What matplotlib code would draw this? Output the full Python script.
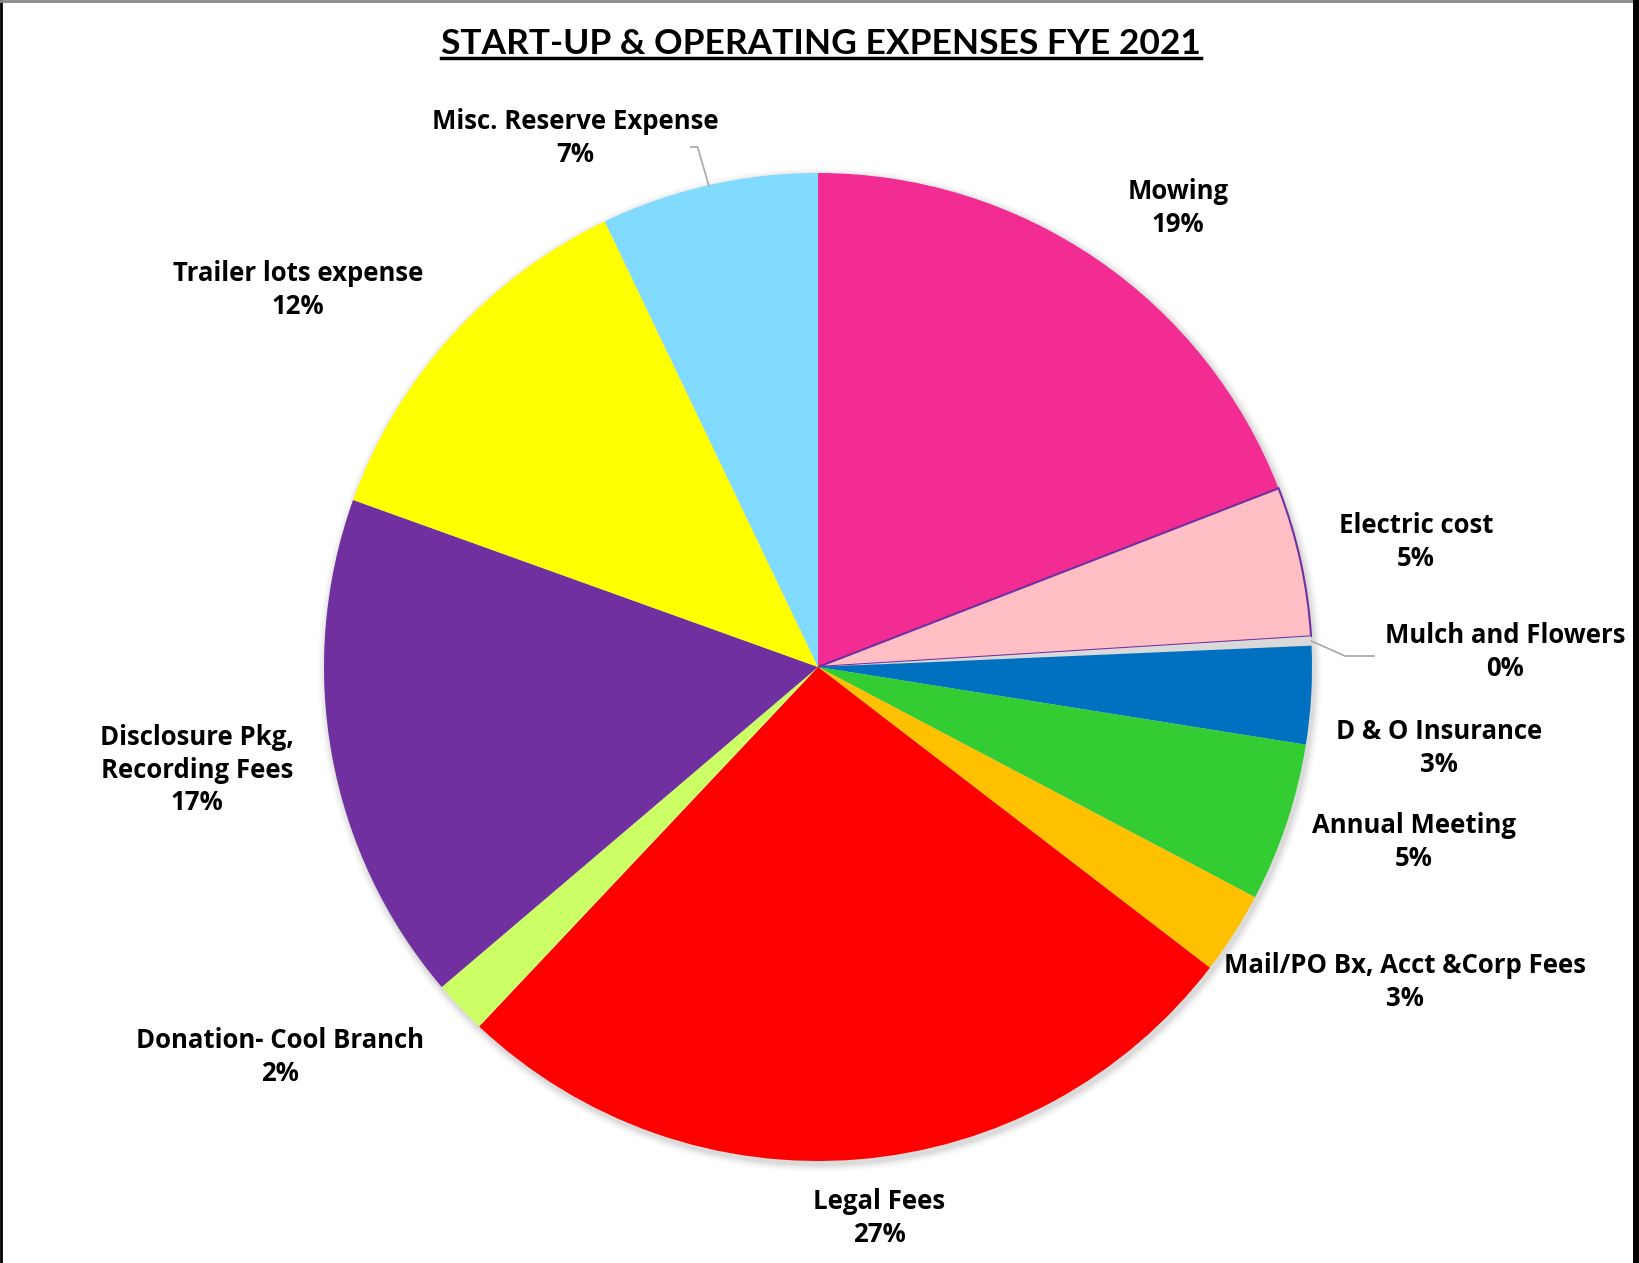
# Gráfico de pastel: gastos de arranque y operación FYE 2021
import matplotlib.pyplot as plt
from matplotlib.lines import Line2D
from matplotlib.patches import Circle
import numpy as np

# Datos (porcentajes)
categorias = ["Mowing", "Electric cost", "Mulch and Flowers", "D & O Insurance",
              "Annual Meeting", "Mail/PO Bx, Acct &Corp Fees", "Legal Fees",
              "Donation- Cool Branch", "Disclosure Pkg,\nRecording Fees",
              "Trailer lots expense", "Misc. Reserve Expense"]
valores = [19.1, 4.9, 0.3, 3.2, 5.2, 2.7, 26.6, 1.75, 16.7, 12.4, 7.1]
colores = ["#F32C93", "#FFBFC4", "#D9D9D9", "#0070C0", "#33CC33", "#FFC000",
           "#FF0000", "#CCFF66", "#7030A0", "#FFFF00", "#80DBFF"]

# Posiciones de etiquetas (pixeles de la imagen, centro del bloque de texto)
pos_etiquetas = [(1178, 208), (1416, 542), (1505, 652), (1439, 748),
                 (1414, 842), (1405, 982), (879, 1218), (280, 1057),
                 (197, 770), (298, 290), (575, 138)]

W, H = 1639, 1263
fig = plt.figure(figsize=(W / 100, H / 100), dpi=100)
ax = fig.add_axes([0, 0, 1, 1])

centro = (818, H - 667)
radio = 494
fuente = "Open Sans"

# Sombra suave
for i, a in enumerate([0.05, 0.04, 0.03, 0.02]):
    ax.add_patch(Circle((centro[0] + 2, centro[1] - 3), radio + 2 + i * 2,
                        color="black", alpha=a, lw=0, zorder=0))

cunas, _ = ax.pie(valores, colors=colores, startangle=90, counterclock=False,
                  center=centro, radius=radio, frame=True,
                  wedgeprops=dict(linewidth=0))
ax.set_xlim(0, W)
ax.set_ylim(0, H)
ax.axis("off")

# Borde morado del sector "Electric cost"
cunas[1].set_edgecolor("#7030A0")
cunas[1].set_linewidth(1.5)

total = sum(valores)
for cat, v, (x, y) in zip(categorias, valores, pos_etiquetas):
    texto = f"{cat}\n{round(v / total * 100)}%"
    ax.text(x, H - y, texto, ha="center", va="center", fontsize=18.5,
            fontweight="bold", family=fuente, linespacing=1.26, color="black")

# Líneas guía para Misc y Mulch
def punto_borde(cuna):
    ang = np.deg2rad((cuna.theta1 + cuna.theta2) / 2)
    return centro[0] + radio * np.cos(ang), centro[1] + radio * np.sin(ang)

x0, y0 = punto_borde(cunas[10])
ax.plot([x0, x0 - 11, x0 - 18], [y0, H - 147, H - 147], color="#A6A6A6", lw=1.2)
x0, y0 = punto_borde(cunas[2])
ax.plot([x0, 1345, 1374], [y0, H - 656, H - 656], color="#A6A6A6", lw=1.2)

# Título subrayado
titulo = ax.text(821, H - 44, "START-UP & OPERATING EXPENSES FYE 2021",
                 ha="center", va="center", fontsize=25.5, fontweight="bold",
                 family="Lato", color="black")
fig.canvas.draw()
bb = titulo.get_window_extent()
ax.add_line(Line2D([bb.x0, bb.x1], [bb.y0 + 2, bb.y0 + 2], color="black",
                   lw=2.5, transform=None))

# Marco de la captura
ax.add_line(Line2D([1, 1], [0, H], color="black", lw=2, transform=None))
ax.add_line(Line2D([0, W], [H - 1, H - 1], color="#888888", lw=2, transform=None))
ax.add_line(Line2D([W - 3.5, W - 3.5], [0, H], color="black", lw=5, transform=None))

fig.savefig("out.png", dpi=100)
